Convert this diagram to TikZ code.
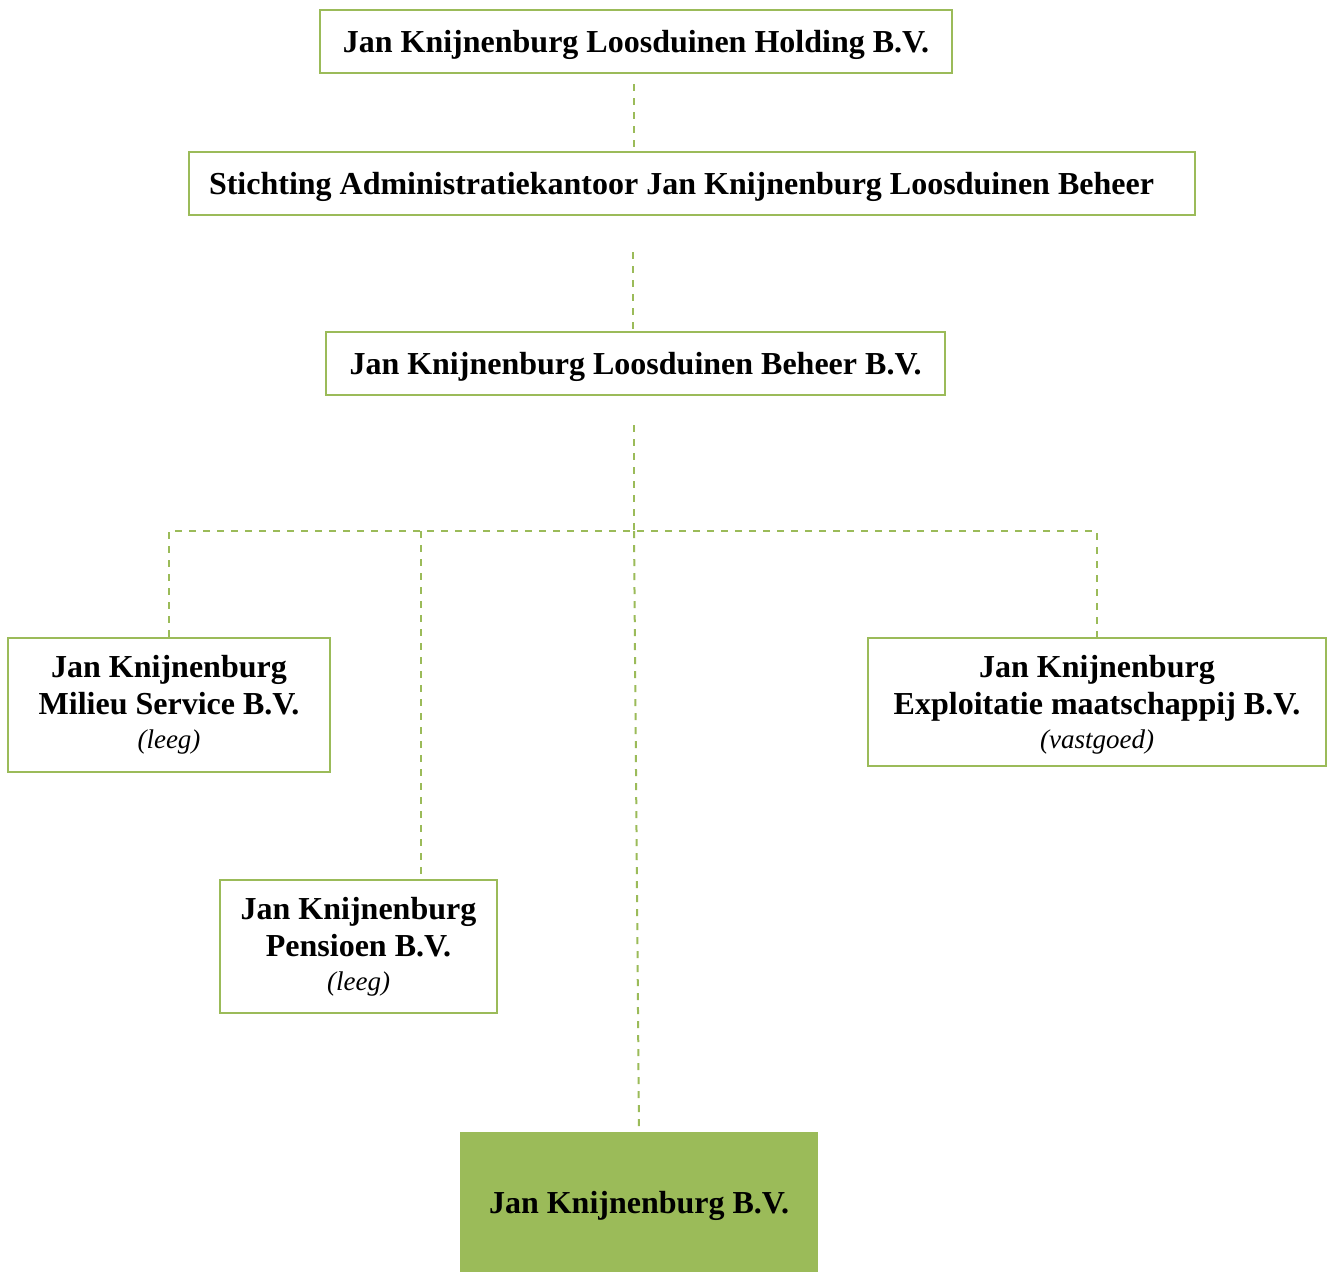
\documentclass[tikz,border=0pt]{standalone}
\usepackage{fontspec}
\setmainfont{Liberation Serif}
\usetikzlibrary{positioning}

\definecolor{orggreen}{HTML}{9BBB59}
\newcommand{\subnote}[1]{{\normalfont\itshape\fontsize{13.5}{15}\selectfont #1}}

\begin{document}
\begin{tikzpicture}[
    x=0.5pt, y=-0.5pt,
    box/.style={rectangle, draw=orggreen, line width=1.3pt, fill=white, minimum height=31.5pt, inner sep=0pt, align=center, font=\fontsize{16}{18.5}\selectfont\bfseries},
    oneline/.style={text depth=0pt},
    link/.style={draw=orggreen, line width=1pt, dash pattern=on 3.5pt off 3.5pt}
]
    \useasboundingbox (0,0) rectangle (1331,1271);

    \node[box, oneline, minimum width=316pt] (holding) at (636,41.5) {Jan Knijnenburg Loosduinen Holding B.V.};
    \node[box, oneline, text width=483pt, inner xsep=10pt, align=flush left] (stak) at (692,183.5) {Stichting Administratiekantoor Jan Knijnenburg Loosduinen Beheer};
    \node[box, oneline, minimum width=309.5pt] (beheer) at (635.5,363.5) {Jan Knijnenburg Loosduinen Beheer B.V.};
    \node[box, minimum width=161pt, minimum height=67pt] (milieu) at (169,705) {Jan Knijnenburg\\Milieu Service B.V.\\[-1.5pt]\subnote{(leeg)}};
    \node[box, oneline, minimum width=229pt, minimum height=64pt] (exploitatie) at (1097,702) {Jan Knijnenburg\\Exploitatie maatschappij B.V.\\[-1.5pt]\subnote{(vastgoed)}};
    \node[box, minimum width=138.5pt, minimum height=66.5pt] (pensioen) at (358.5,946.5) {Jan Knijnenburg\\Pensioen B.V.\\[-1.5pt]\subnote{(leeg)}};
    \node[box, oneline, fill=orggreen, minimum width=178pt, minimum height=69pt] (werkmij) at (639,1202) {Jan Knijnenburg B.V.};

    % dashed links
    \coordinate (holdingout) at (634,84);
    \coordinate (stakout) at (633,252);
    \coordinate (beheerout) at (634,425);
    \coordinate (split) at (634,531);
    \coordinate (pensioentap) at (421,531);

    \draw[link] (holdingout) -- (holdingout |- stak.north);
    \draw[link] (stakout) -- (stakout |- beheer.north);
    \draw[link] (beheerout) -- (split);
    \draw[link] (milieu.north) -- (milieu.north |- split) -- (exploitatie.north |- split) -- (exploitatie.north);
    \draw[link] (pensioentap) -- (pensioentap |- pensioen.north);
    \draw[link] (split) -- (werkmij.north);
\end{tikzpicture}
\end{document}
